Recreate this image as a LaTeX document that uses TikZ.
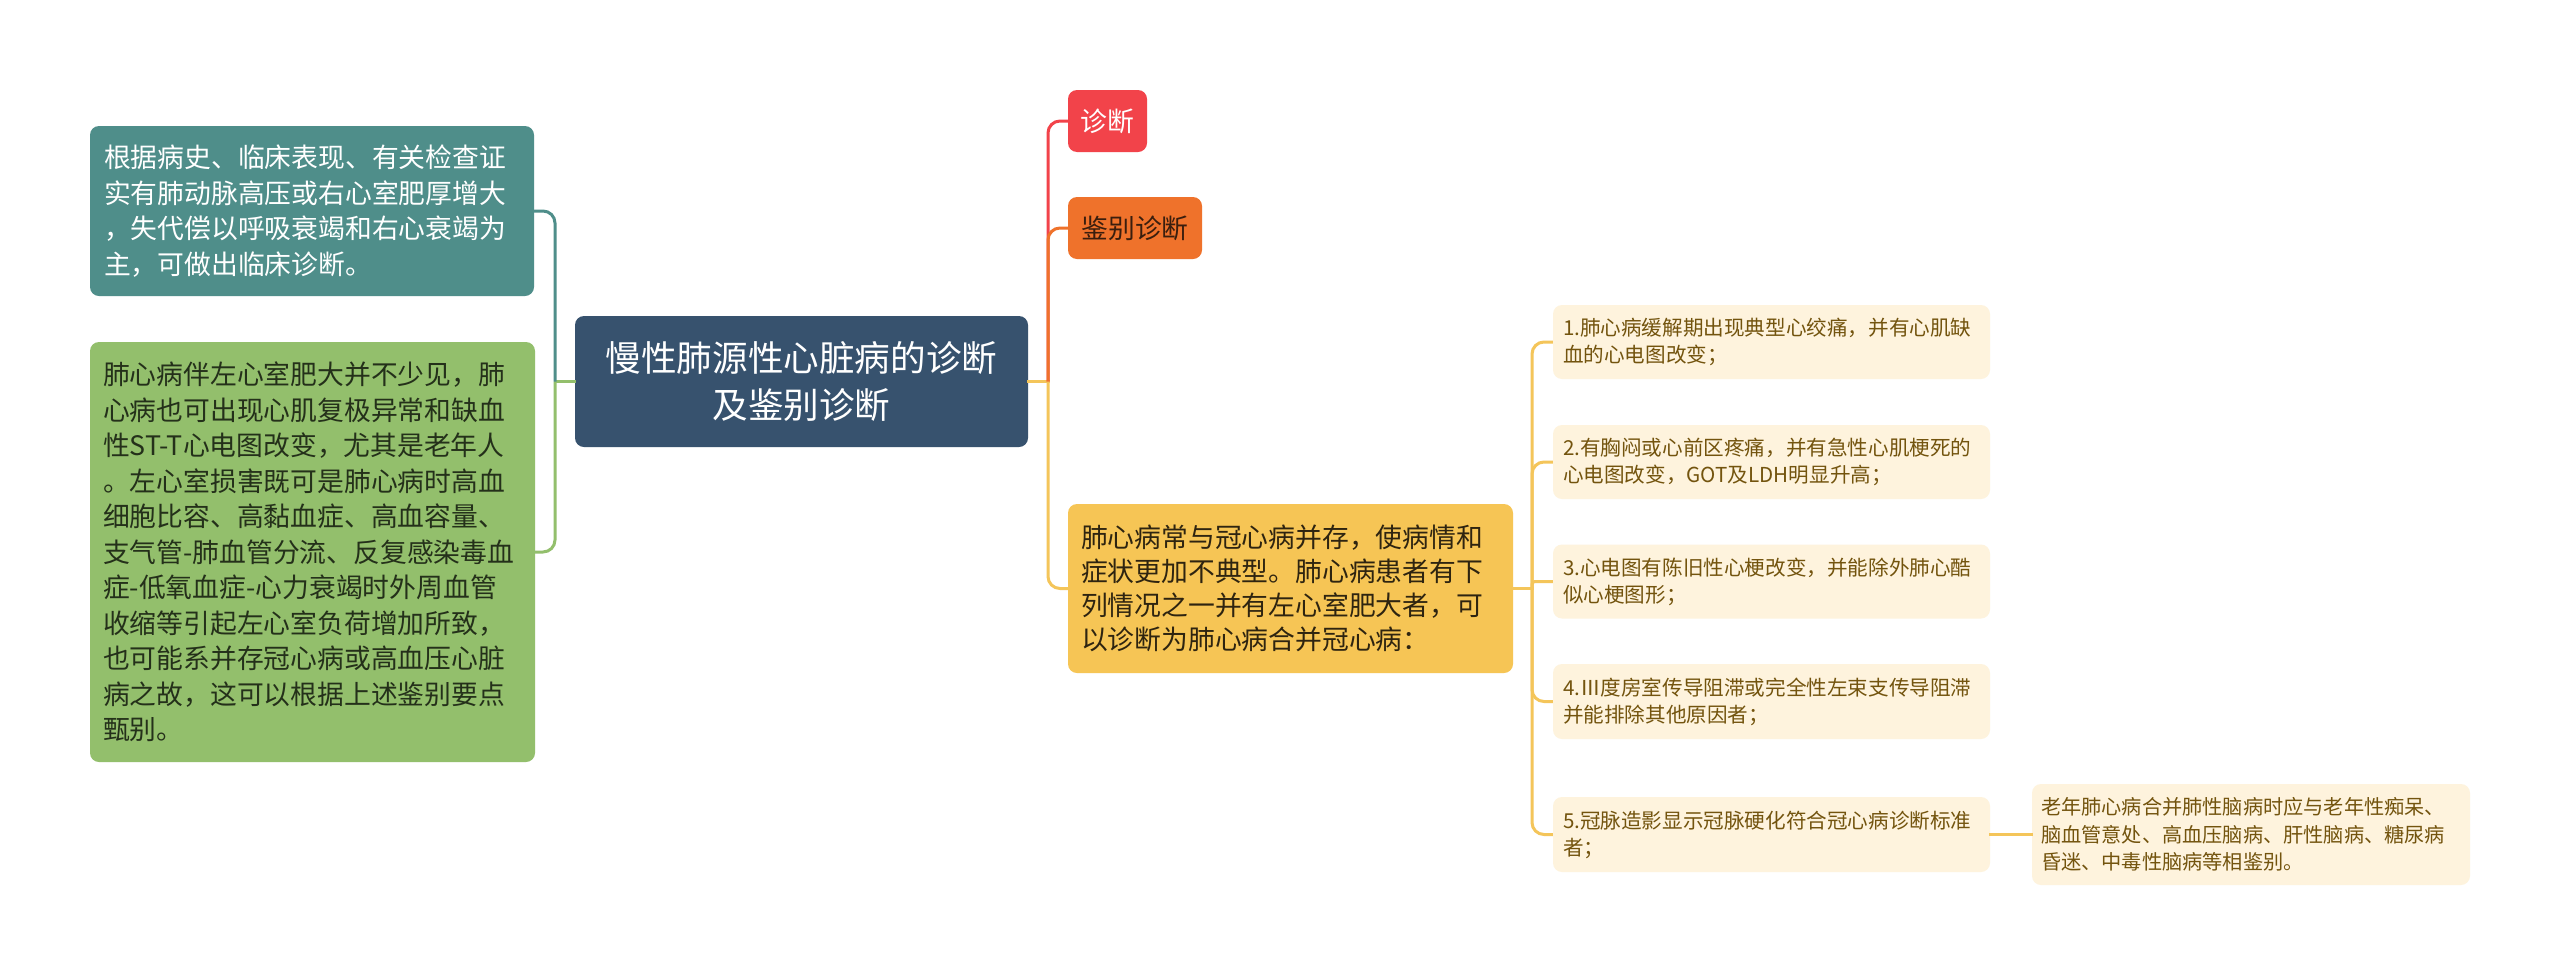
\documentclass[tikz,border=0pt]{standalone}
\usepackage{fontspec}
\setmainfont{Noto Sans CJK SC}
\definecolor{tealc}{HTML}{4F8E8A}
\definecolor{greenc}{HTML}{93BF6C}
\definecolor{navyc}{HTML}{37526E}
\definecolor{redc}{HTML}{F2434A}
\definecolor{orangec}{HTML}{EF722B}
\definecolor{yellowc}{HTML}{F6C555}
\definecolor{yline}{HTML}{F4C55A}
\definecolor{itemc}{HTML}{FEF3DD}
\definecolor{itemtext}{HTML}{73540E}
\definecolor{darktext}{HTML}{2E2410}
\definecolor{greentext}{HTML}{24301A}
\definecolor{orangetext}{HTML}{3A1E0E}
\begin{document}
\begin{tikzpicture}[x=1pt,y=-1pt,
  box/.style={rounded corners=9pt, inner ysep=0pt, align=left},
  bigfont/.style={font=\fontsize{26.8}{35.5}\selectfont},
  itemfont/.style={font=\fontsize{20.6}{27}\selectfont},
  itembox/.style={box, itemfont, fill=itemc, text=itemtext, minimum width=437pt, minimum height=74pt, text width=417pt, inner xsep=10pt},
  conn/.style={line width=3pt, line cap=rect},
  rconn/.style={line width=3pt, rounded corners=12pt}
]
\useasboundingbox (0,0) rectangle (2560,975);
\fill[white] (0,0) rectangle (2560,975);

% nodes
\node[box, bigfont, fill=tealc, text=white, minimum width=444pt, minimum height=170pt, text width=416pt, inner xsep=14pt] (teal) at (312,211)
 {根据病史、临床表现、有关检查证\\实有肺动脉高压或右心室肥厚增大\\，失代偿以呼吸衰竭和右心衰竭为\\主，可做出临床诊断。};
\node[box, bigfont, fill=greenc, text=greentext, minimum width=445pt, minimum height=420pt, text width=419pt, inner xsep=13pt] (green) at (312.5,552)
 {肺心病伴左心室肥大并不少见，肺\\心病也可出现心肌复极异常和缺血\\性ST-T心电图改变，尤其是老年人\\。左心室损害既可是肺心病时高血\\细胞比容、高黏血症、高血容量、\\支气管-肺血管分流、反复感染毒血\\症-低氧血症-心力衰竭时外周血管\\收缩等引起左心室负荷增加所致，\\也可能系并存冠心病或高血压心脏\\病之故，这可以根据上述鉴别要点\\甄别。};
\node[box, align=center, fill=navyc, text=white, font=\fontsize{35.6}{47}\selectfont, minimum width=453pt, minimum height=131pt, text width=425pt, inner xsep=14pt] (center) at (801.5,381.5)
 {慢性肺源性心脏病的诊断\\及鉴别诊断};
\node[box, align=center, bigfont, fill=redc, text=white, minimum width=79pt, minimum height=62pt, inner xsep=0pt] (diag) at (1107.5,121) {诊断};
\node[box, align=center, bigfont, fill=orangec, text=orangetext, minimum width=134pt, minimum height=62pt, inner xsep=0pt] (diff) at (1135,228) {鉴别诊断};
\node[box, font=\fontsize{26.8}{34}\selectfont, fill=yellowc, text=darktext, minimum width=445pt, minimum height=169pt, text width=419pt, inner xsep=13pt] (yel) at (1290.5,588.5)
 {肺心病常与冠心病并存，使病情和\\症状更加不典型。肺心病患者有下\\列情况之一并有左心室肥大者，可\\以诊断为肺心病合并冠心病：};
\node[itembox] (i1) at (1771.5,342) {1.肺心病缓解期出现典型心绞痛，并有心肌缺\\血的心电图改变；};
\node[itembox] (i2) at (1771.5,462) {2.有胸闷或心前区疼痛，并有急性心肌梗死的\\心电图改变，GOT及LDH明显升高；};
\node[itembox] (i3) at (1771.5,581.5) {3.心电图有陈旧性心梗改变，并能除外肺心酷\\似心梗图形；};
\node[itembox, minimum height=75pt] (i4) at (1771.5,701.5) {4.Ⅲ度房室传导阻滞或完全性左束支传导阻滞\\并能排除其他原因者；};
\node[itembox, minimum height=75pt] (i5) at (1771.5,834.5) {5.冠脉造影显示冠脉硬化符合冠心病诊断标准\\者；};
\node[box, font=\fontsize{20.2}{27.5}\selectfont, fill=itemc, text=itemtext, minimum width=438pt, minimum height=101pt, text width=420pt, inner xsep=9pt] (i6) at (2251,834.5)
 {老年肺心病合并肺性脑病时应与老年性痴呆、\\脑血管意处、高血压脑病、肝性脑病、糖尿病\\昏迷、中毒性脑病等相鉴别。};

% junction coordinates
\coordinate (jl) at (555,381.5);
\coordinate (jr) at (1048,381.5);
\coordinate (jy) at (1532,588.5);

% left connectors
\draw[conn, greenc] (center.west) -- (jl);
\draw[rconn, greenc] (jl) -- (jl |- green.east) -- (green.east);
\draw[rconn, tealc] (jl) -- (jl |- teal.east) -- (teal.east);

% right connectors
\draw[conn, yline] (center.east) -- (jr);
\draw[rconn, redc] (jr) -- (jr |- diag.west) -- (diag.west);
\draw[rconn, orangec] (jr) -- (jr |- diff.west) -- (diff.west);
\draw[rconn, yline] (jr) -- (jr |- yel.west) -- (yel.west);

% item connectors
\draw[conn, yline] (yel.east) -- (jy);
\draw[rconn, yline] (jy) -- (jy |- i1.west) -- (i1.west);
\draw[rconn, yline] (jy) -- (jy |- i2.west) -- (i2.west);
\draw[line width=3pt, rounded corners=3pt, yline] (jy) -- (jy |- i3.west) -- (i3.west);
\draw[rconn, yline] (jy) -- (jy |- i4.west) -- (i4.west);
\draw[rconn, yline] (jy) -- (jy |- i5.west) -- (i5.west);
\draw[conn, yline] (i5.east) -- (i6.west);
\end{tikzpicture}
\end{document}
